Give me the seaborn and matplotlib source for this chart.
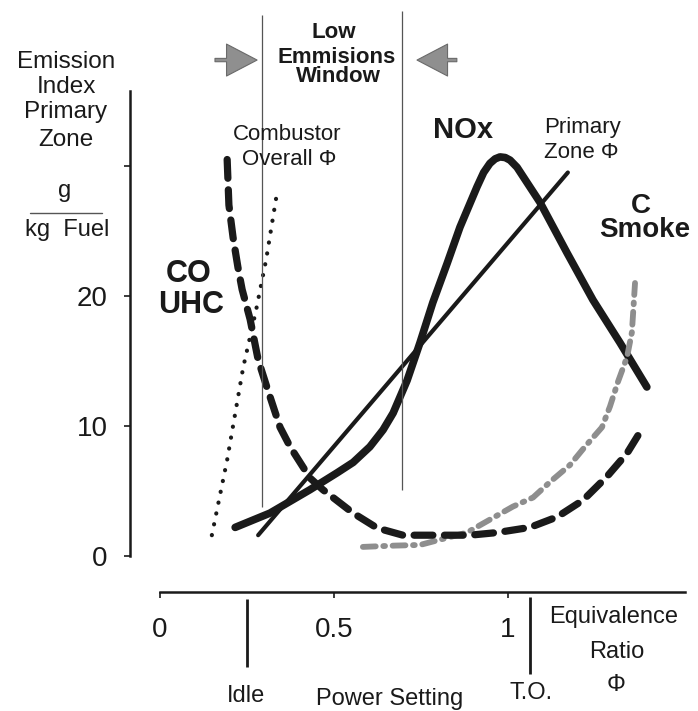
import matplotlib
matplotlib.use("Agg")
import matplotlib.pyplot as plt
from matplotlib.lines import Line2D
import pandas as pd
import seaborn as sns

# ---------------- data ----------------
# x: equivalence ratio phi, y: emission index g/kg fuel
nox_phi = [0.216, 0.316, 0.431, 0.509, 0.555, 0.603, 0.641, 0.670, 0.710, 0.747, 0.784, 0.825,
           0.862, 0.911, 0.930, 0.948, 0.963, 0.977, 0.992, 1.006, 1.026, 1.092, 1.170,
           1.244, 1.322, 1.399]
nox_ei = [2.2, 3.3, 5.1, 6.4, 7.2, 8.4, 9.7, 11.0, 13.5, 16.4, 19.5, 22.5,
          25.3, 28.4, 29.5, 30.2, 30.55, 30.7, 30.65, 30.45, 29.9, 27.2, 23.3,
          19.7, 16.4, 13.0]

co_phi = [0.193, 0.198, 0.210, 0.224, 0.236, 0.259, 0.282, 0.307, 0.345, 0.374, 0.431,
          0.468, 0.555, 0.624, 0.698, 0.784, 0.890, 0.968, 1.063, 1.141, 1.216,
          1.284, 1.342, 1.388]
co_ei = [30.5, 27.0, 24.5, 22.2, 20.5, 18.2, 15.1, 13.0, 9.9, 8.4, 6.0,
         5.1, 3.3, 2.15, 1.6, 1.6, 1.6, 1.8, 2.2, 3.0, 4.3,
         6.1, 7.9, 9.9]

smoke_phi = [0.583, 0.675, 0.747, 0.825, 0.882, 0.948, 1.014, 1.072, 1.121, 1.178,
             1.221, 1.270, 1.293, 1.316, 1.342, 1.356, 1.365]
smoke_ei = [0.7, 0.8, 0.85, 1.4, 1.8, 2.8, 3.8, 4.5, 5.7, 7.0,
            8.4, 9.9, 11.5, 13.4, 15.3, 17.2, 21.0]

primary_phi = [0.282, 1.172]
primary_ei = [1.6, 29.5]

overall_phi = [0.149, 0.193, 0.239, 0.276, 0.305, 0.336]
overall_ei = [1.6, 7.4, 14.5, 18.9, 22.8, 27.9]

window_phi = [0.293, 0.695]          # low emissions window borders
idle_phi, to_phi = 0.25, 1.063       # power setting markers

y_ticks = [0, 10, 20, 30]
y_ticklabels = ["0", "10", "20", ""]
x_ticks = [0, 0.5, 1]
x_ticklabels = ["0", "0.5", "1"]

# ---------------- style ----------------
sns.set_theme(style="white")
plt.rcParams["font.family"] = ["Liberation Sans", "DejaVu Sans"]

W, H = 698, 711
fig = plt.figure(figsize=(W / 100, H / 100), dpi=100)
ax = fig.add_axes([0, 0, 1, 1])
ax.set_facecolor("white")

# axes scale: phi=0 at px 160, 348 px per unit; EI=0 at px 556, 13 px per unit
X0, XS, Y0, YS = 160, 348, 556, 13
ax.set_xlim(-X0 / XS, (W - X0) / XS)
ax.set_ylim((Y0 - H) / YS, Y0 / YS)

ink = "#1a1a1a"

def draw(xs, ys, **kw):
    df = pd.DataFrame({"phi": xs, "ei": ys})
    sns.lineplot(data=df, x="phi", y="ei", sort=False, estimator=None, ax=ax, **kw)
    return ax.lines[-1]

# Combustor overall phi (dotted)
l = draw(overall_phi, overall_ei, color=ink, lw=3.0)
l.set_dashes([0.05, 2.6]); l.set_dash_capstyle("round")

# Primary zone phi (thin solid)
draw(primary_phi, primary_ei, color=ink, lw=3.0)

# NOx (thick solid)
l = draw(nox_phi, nox_ei, color=ink, lw=5.5)
l.set_solid_joinstyle("round"); l.set_solid_capstyle("round")

# Smoke (grey dash-dot)
l = draw(smoke_phi, smoke_ei, color="#8e8e8e", lw=4.2)
l.set_dashes([2.2, 1.3, 0.3, 1.3]); l.set_dash_capstyle("round")

# CO / UHC (thick dashed)
l = draw(co_phi, co_ei, color=ink, lw=5.2)
l.set_dashes([2.6, 1.6]); l.set_dash_capstyle("round")

# window borders
ax.vlines(window_phi[0], 3.8, 41.6, color="#555555", lw=0.9)
ax.vlines(window_phi[1], 5.1, 41.9, color="#555555", lw=0.9)

# idle / take-off markers below the x axis
ax.vlines(idle_phi, -8.5, -3.3, color=ink, lw=2.0)
ax.vlines(to_phi, -9.1, -3.15, color=ink, lw=2.0)

# arrows of the window
arrow_kw = dict(arrowstyle="simple,head_length=1.1,head_width=1.15,tail_width=0.12",
                fc="#8f8f8f", ec="#6a6a6a", lw=0.8, shrinkA=0, shrinkB=0,
                mutation_scale=20)
ax.annotate("", xy=(0.279, 38.15), xytext=(0.158, 38.15), arrowprops=arrow_kw)
ax.annotate("", xy=(0.7385, 38.15), xytext=(0.853, 38.15), arrowprops=arrow_kw)

# spines / ticks
for s in ["top", "right"]:
    ax.spines[s].set_visible(False)
ax.spines["left"].set_position(("data", -0.086))
ax.spines["left"].set_bounds(0, 35.8)
ax.spines["bottom"].set_position(("data", -2.77))
ax.spines["bottom"].set_bounds(0, 1.51)
for s in ["left", "bottom"]:
    ax.spines[s].set_linewidth(1.8)
    ax.spines[s].set_color(ink)
ax.set_yticks(y_ticks)
ax.set_yticklabels(y_ticklabels)
ax.set_xticks(x_ticks)
ax.set_xticklabels(x_ticklabels)
ax.tick_params(axis="y", left=True, direction="out", length=4, width=1.2,
               pad=12, labelsize=20, colors=ink)
ax.tick_params(axis="x", bottom=True, direction="out", length=4, width=1.2,
               pad=14, labelsize=20, colors=ink)
ax.set_xlabel("")
ax.set_ylabel("")
ax.grid(False)

# ---------------- text ----------------
def txt(xpx, ypx, s, size=17, weight="normal", **kw):
    fig.text(xpx / W, 1 - ypx / H, s, ha="center", va="baseline",
             fontsize=size, fontweight=weight, color=ink, **kw)

txt(66, 68, "Emission", size=17.5)
txt(66, 93, "Index", size=17.5)
txt(66, 118, "Primary", size=17.5)
txt(66, 146, "Zone", size=17.5)
txt(65, 197, "g")
fig.add_artist(Line2D([30 / W, 102 / W], [1 - 213 / H, 1 - 213 / H],
                      color="#555555", lw=1.0))
txt(67, 236, "kg  Fuel")

txt(189, 282, "CO", size=22, weight="bold")
txt(191, 313, "UHC", size=22, weight="bold")

txt(287, 140, "Combustor", size=16)
txt(289, 165, "Overall \u03a6", size=16)

txt(463, 138, "NOx", size=21, weight="bold")
txt(582, 133, "Primary", size=16)
txt(581, 158, "Zone \u03a6", size=16)

txt(641, 213, "C", size=20, weight="bold")
txt(645, 237, "Smoke", size=20, weight="bold")

txt(334, 38, "Low", size=16, weight="bold")
txt(337, 63, "Emmisions", size=16, weight="bold")
txt(338, 82, "Window", size=16, weight="bold")

txt(614, 623, "Equivalence", size=17)
txt(617, 658, "Ratio", size=17)
txt(616, 691, "\u03a6", size=17)

txt(246, 702, "Idle", size=17)
txt(390, 705, "Power Setting", size=17)
txt(531, 699, "T.O.", size=17)

fig.savefig("out.png", dpi=100, facecolor="white")
